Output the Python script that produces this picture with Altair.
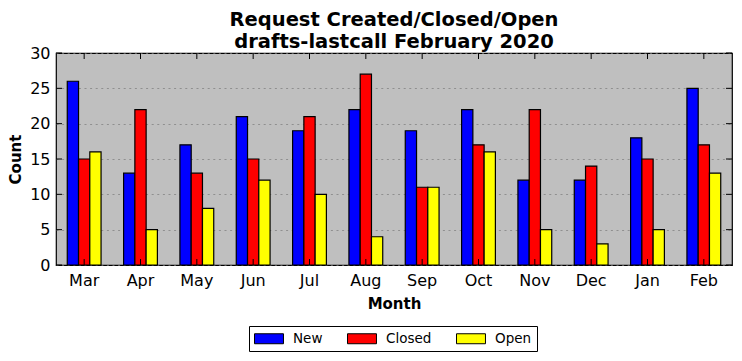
import altair as alt
import pandas as pd

months = ["Mar", "Apr", "May", "Jun", "Jul", "Aug", "Sep", "Oct", "Nov", "Dec", "Jan", "Feb"]
series = ["New", "Closed", "Open"]
new_vals = [26, 13, 17, 21, 19, 22, 19, 22, 12, 12, 18, 25]
closed_vals = [15, 22, 13, 15, 21, 27, 11, 17, 22, 14, 15, 17]
open_vals = [16, 5, 8, 12, 10, 4, 11, 16, 5, 3, 5, 13]
colors = ["#0000ff", "#ff0000", "#ffff00"]
y_ticks = [0, 5, 10, 15, 20, 25, 30]

rows = []
for i, m in enumerate(months):
    for s, vals in zip(series, [new_vals, closed_vals, open_vals]):
        rows.append({"Month": m, "Series": s, "Count": vals[i]})
df = pd.DataFrame(rows)

W, H = 676, 212
FONT = "DejaVu Sans"
TL = 6

xscale = alt.Scale(domain=months, paddingInner=0.4, paddingOuter=0.2)
yscale = alt.Scale(domain=[0, 30], nice=False)

xaxis = alt.Axis(title="Month", labelAngle=0, labelFontSize=16, labelColor="black",
                 labelFont=FONT, titleFont=FONT, titleFontSize=15, titleFontWeight="bold",
                 titleColor="black", ticks=False, domain=False, labelPadding=7,
                 titlePadding=8, grid=False)
yaxis = alt.Axis(title="Count", values=y_ticks, labelFontSize=16, labelColor="black",
                 labelFont=FONT, titleFont=FONT, titleFontSize=15, titleFontWeight="bold",
                 titleColor="black", ticks=False, domain=False, labelPadding=6,
                 grid=True, gridColor="#7a7a7a", gridDash=[2, 3.6], gridWidth=0.7,
                 titlePadding=6)

# legend symbol: left-anchored wide rectangle (unit = sqrt(size)/2)
S = 14
sym = "M-1,-0.714H3.14V0.714H-1Z"

bars = alt.Chart(df).mark_bar(stroke="black", strokeWidth=1.2).encode(
    x=alt.X("Month:N", sort=months, scale=xscale, axis=xaxis),
    xOffset=alt.XOffset("Series:N", sort=series, scale=alt.Scale(domain=series)),
    y=alt.Y("Count:Q", scale=yscale, axis=yaxis),
    color=alt.Color("Series:N", sort=series,
                    scale=alt.Scale(domain=series, range=colors),
                    legend=alt.Legend(title=None, orient="none", direction="horizontal",
                                      legendX=193, legendY=273,
                                      symbolType=sym, symbolSize=S * S,
                                      symbolStrokeColor="black", symbolStrokeWidth=1,
                                      symbolOpacity=1,
                                      labelFontSize=13.5, labelFont=FONT, labelColor="black",
                                      columnPadding=22, padding=5, strokeColor="black",
                                      fillColor="white", labelOffset=24)),
)

tick_df = pd.DataFrame({"v": y_ticks})
month_df = pd.DataFrame({"Month": months})

yl = alt.Chart(tick_df).mark_rule(color="black").encode(
    y=alt.Y("v:Q", scale=yscale, axis=yaxis), x=alt.value(0), x2=alt.value(TL))
yr = alt.Chart(tick_df).mark_rule(color="black").encode(
    y=alt.Y("v:Q", scale=yscale, axis=yaxis), x=alt.value(W - TL), x2=alt.value(W))
xb = alt.Chart(month_df).mark_rule(color="black").encode(
    x=alt.X("Month:N", sort=months, scale=xscale, axis=xaxis), y=alt.value(H), y2=alt.value(H - TL))
xt = alt.Chart(month_df).mark_rule(color="black").encode(
    x=alt.X("Month:N", sort=months, scale=xscale, axis=xaxis), y=alt.value(0), y2=alt.value(TL))

chart = alt.layer(bars, yl, yr, xb, xt).properties(
    width=W, height=H,
    title=alt.Title(["Request Created/Closed/Open", "drafts-lastcall February 2020"],
                    font=FONT, fontSize=19.5, fontWeight="bold", color="black",
                    lineHeight=22, offset=-7, anchor="middle"),
    autosize=alt.AutoSizeParams(type="none"),
    padding={"left": 48, "top": 45, "right": 2, "bottom": 100},
).configure(background="white").configure_view(
    fill="#bfbfbf", stroke="black", strokeWidth=1.2
)

chart.save("out.html", embed_options={"renderer": "svg", "actions": False})
